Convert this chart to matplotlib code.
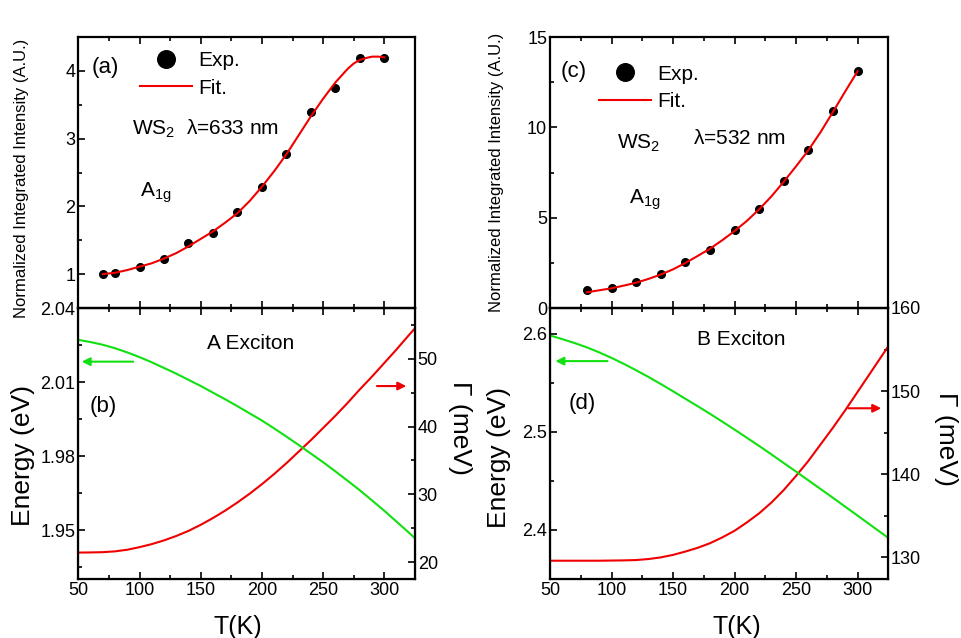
import matplotlib
matplotlib.use('Agg')
import matplotlib.pyplot as plt
from matplotlib.ticker import MultipleLocator, AutoMinorLocator

plt.rcParams['font.family'] = ['Liberation Sans', 'DejaVu Sans']
plt.rcParams['mathtext.fontset'] = 'custom'
plt.rcParams['mathtext.rm'] = 'Liberation Sans'
plt.rcParams['mathtext.it'] = 'Liberation Sans:italic'
plt.rcParams['mathtext.default'] = 'regular'

# (a) WS2, 633 nm - normalized integrated intensity of A1g
t_a = [70, 80, 100, 120, 140, 160, 180, 200, 220, 240, 260, 280, 300]
exp_a = [1.00, 1.01, 1.11, 1.23, 1.46, 1.60, 1.91, 2.29, 2.77, 3.39, 3.74, 4.19, 4.19]
tfit_a = [70, 80, 90, 100, 110, 120, 130, 140, 150, 160, 170, 180, 190, 200, 210,
          220, 230, 240, 250, 260, 270, 275, 280, 285, 290, 295, 300]
fit_a = [1.00, 1.02, 1.06, 1.11, 1.16, 1.23, 1.31, 1.41, 1.52, 1.63, 1.76, 1.90,
         2.08, 2.29, 2.52, 2.77, 3.05, 3.33, 3.59, 3.83, 4.03, 4.11, 4.16, 4.19,
         4.21, 4.21, 4.20]

# (c) WS2, 532 nm
t_c = [80, 100, 120, 140, 160, 180, 200, 220, 240, 260, 280, 300]
exp_c = [0.98, 1.13, 1.44, 1.86, 2.53, 3.19, 4.30, 5.48, 7.01, 8.73, 10.89, 13.10]
tfit_c = [80, 90, 100, 110, 120, 130, 140, 150, 160, 170, 180, 190, 200, 210,
          220, 230, 240, 250, 260, 270, 280, 290, 300]
fit_c = [0.87, 0.98, 1.09, 1.24, 1.40, 1.61, 1.85, 2.14, 2.49, 2.88, 3.28, 3.75,
         4.26, 4.82, 5.46, 6.18, 6.99, 7.84, 8.73, 9.74, 10.85, 11.99, 13.10]

# exciton energy (eV) and broadening (meV) vs temperature
t_exc = [50, 60, 70, 80, 90, 100, 110, 120, 130, 140, 150, 160, 170, 180, 190,
         200, 210, 220, 230, 240, 250, 260, 270, 280, 290, 300, 310, 320, 325]
# (b) A exciton
energy_b = [2.0271, 2.0262, 2.0251, 2.0237, 2.0220, 2.0201, 2.0180, 2.0157,
            2.0134, 2.0109, 2.0084, 2.0057, 2.0030, 2.0002, 1.9973, 1.9944,
            1.9912, 1.9879, 1.9845, 1.9810, 1.9775, 1.9738, 1.9700, 1.9661,
            1.9620, 1.9578, 1.9534, 1.9490, 1.9467]
gamma_b = [21.40, 21.42, 21.46, 21.58, 21.82, 22.20, 22.65, 23.20, 23.85, 24.60,
           25.50, 26.50, 27.60, 28.80, 30.10, 31.50, 33.00, 34.60, 36.30, 38.00,
           39.80, 41.60, 43.50, 45.50, 47.40, 49.40, 51.40, 53.50, 54.50]
# (d) B exciton
energy_d = [2.5980, 2.5943, 2.5903, 2.5859, 2.5808, 2.5752, 2.5691, 2.5626,
            2.5558, 2.5486, 2.5412, 2.5336, 2.5260, 2.5183, 2.5103, 2.5022,
            2.4939, 2.4855, 2.4769, 2.4681, 2.4594, 2.4505, 2.4416, 2.4327,
            2.4236, 2.4146, 2.4055, 2.3964, 2.3918]
gamma_d = [129.60, 129.60, 129.60, 129.60, 129.60, 129.62, 129.64, 129.68,
           129.80, 130.00, 130.30, 130.70, 131.15, 131.70, 132.40, 133.20,
           134.20, 135.30, 136.60, 138.10, 139.80, 141.60, 143.60, 145.60,
           147.70, 149.90, 152.10, 154.30, 155.40]

red = '#f00000'
green = '#11e011'
W, H = 961, 638
fig = plt.figure(figsize=(W / 100, H / 100), dpi=100)


def box(x0, x1, ytop, ybot):
    return [x0 / W, 1 - ybot / H, (x1 - x0) / W, (ybot - ytop) / H]


def style(ax, right=True):
    ax.tick_params(which='both', direction='in', top=True, right=right,
                   labelsize=13, width=1.2, pad=2)
    ax.tick_params(which='major', length=5)
    ax.tick_params(which='minor', length=3)
    for s in ax.spines.values():
        s.set_linewidth(1.6)
    ax.set_xlim(50, 325)
    ax.xaxis.set_major_locator(MultipleLocator(50))
    ax.xaxis.set_minor_locator(MultipleLocator(25))


def top_panel(rect, t, e, tf, f, ylim, major, tag, leg_xy, tag_xy):
    ax = fig.add_axes(rect)
    style(ax, right=False)
    ax.plot(t, e, 'o', color='k', ms=5.5, label='Exp.')
    ax.plot(tf, f, '-', color=red, lw=1.5, label='Fit.')
    ax.set_ylim(*ylim)
    ax.yaxis.set_major_locator(MultipleLocator(major))
    ax.yaxis.set_minor_locator(MultipleLocator(major / 2))
    ax.tick_params(labelbottom=False)
    ax.legend(loc='upper left', bbox_to_anchor=leg_xy, frameon=False, fontsize=15,
              markerscale=2.3, handlelength=2.5, handletextpad=0.3,
              labelspacing=0.4, borderpad=0, borderaxespad=0)
    ax.text(tag_xy[0], tag_xy[1], tag, transform=ax.transAxes, fontsize=16,
            ha='left', va='center')
    return ax


def bottom_panel(rect, en, gam, ylim_e, yticks_e, fmt, ylim_g, name, tag, arrows):
    ax = fig.add_axes(rect)
    style(ax)
    ax.plot(t_exc, en, color=green, lw=1.5)
    ax.set_ylim(*ylim_e)
    ax.set_yticks(yticks_e)
    ax.yaxis.set_minor_locator(AutoMinorLocator(2))
    ax.set_yticklabels([fmt % v for v in yticks_e])
    ax2 = ax.twinx()
    ax2.plot(t_exc, gam, color=red, lw=1.5)
    ax2.set_ylim(*ylim_g)
    ax2.yaxis.set_major_locator(MultipleLocator(10))
    ax2.yaxis.set_minor_locator(MultipleLocator(5))
    ax2.tick_params(which='both', direction='in', labelsize=13, width=1.2, pad=2)
    ax2.tick_params(which='major', length=5)
    ax2.tick_params(which='minor', length=3)
    ax.set_zorder(ax2.get_zorder() + 1)
    ax.patch.set_visible(False)
    ax.text(name[1], name[2], name[0], transform=ax.transAxes, fontsize=15,
            ha='left', va='baseline')
    ax.text(tag[1], tag[2], tag[0], transform=ax.transAxes, fontsize=16,
            ha='left', va='center')
    for (x0, x1, y, c) in arrows:
        ax.annotate('', xy=(x1, y), xytext=(x0, y), xycoords='axes fraction',
                    arrowprops=dict(arrowstyle='-|>', color=c, lw=1.5,
                                    mutation_scale=12, shrinkA=0, shrinkB=0))
    return ax, ax2


# left column
ax_a = top_panel(box(78.3, 415, 37, 308), t_a, exp_a, tfit_a, fit_a, (0.5, 4.5), 1,
                 '(a)', (0.183, 0.947), (0.041, 0.886))
ax_a.text(0.159, 0.638, r'WS$_2$  $\lambda$=633 nm', transform=ax_a.transAxes,
          fontsize=15, va='baseline')
ax_a.text(0.183, 0.411, r'A$_{1g}$', transform=ax_a.transAxes, fontsize=15,
          va='baseline')

ax_b, ax_b2 = bottom_panel(box(78.3, 415, 308, 579), energy_b, gamma_b,
                           (1.9302, 2.04), [1.95, 1.98, 2.01, 2.04], '%.2f',
                           (17.5, 57.5), ('A Exciton', 0.381, 0.848),
                           ('(b)', 0.035, 0.638),
                           [(0.163, 0.010, 0.802, green), (0.887, 0.974, 0.712, red)])

# right column
ax_c = top_panel(box(550, 888.3, 37, 308), t_c, exp_c, tfit_c, fit_c, (0, 15), 5,
                 '(c)', (0.145, 0.898), (0.030, 0.871))
ax_c.text(0.197, 0.588, r'WS$_2$', transform=ax_c.transAxes, fontsize=15,
          va='baseline')
ax_c.text(0.424, 0.607, r'$\lambda$=532 nm', transform=ax_c.transAxes, fontsize=15,
          va='baseline')
ax_c.text(0.234, 0.385, r'A$_{1g}$', transform=ax_c.transAxes, fontsize=15,
          va='baseline')

ax_d, ax_d2 = bottom_panel(box(550, 888.3, 308, 579), energy_d, gamma_d,
                           (2.35, 2.626), [2.4, 2.5, 2.6], '%.1f',
                           (127.4, 160), ('B Exciton', 0.434, 0.863),
                           ('(d)', 0.054, 0.646),
                           [(0.170, 0.016, 0.804, green), (0.882, 0.979, 0.630, red)])

# axis titles
ylab = 'Normalized Integrated Intensity (A.U.)'
fig.text(22 / W, 1 - 178 / H, ylab, rotation=90, fontsize=12, ha='center', va='center')
fig.text(496 / W, 1 - 172 / H, ylab, rotation=90, fontsize=12, ha='center', va='center')
fig.text(23 / W, 1 - 455 / H, 'Energy (eV)', rotation=90, fontsize=19, ha='center', va='center')
fig.text(499 / W, 1 - 457 / H, 'Energy (eV)', rotation=90, fontsize=19, ha='center', va='center')
fig.text(460 / W, 1 - 428 / H, 'Γ (meV)', rotation=270, fontsize=19, ha='center', va='center')
fig.text(946 / W, 1 - 439 / H, 'Γ (meV)', rotation=270, fontsize=19, ha='center', va='center')
fig.text(237.5 / W, 1 - 627 / H, 'T(K)', fontsize=18, ha='center', va='center')
fig.text(737 / W, 1 - 627 / H, 'T(K)', fontsize=18, ha='center', va='center')

fig.savefig('out.png', dpi=100)
